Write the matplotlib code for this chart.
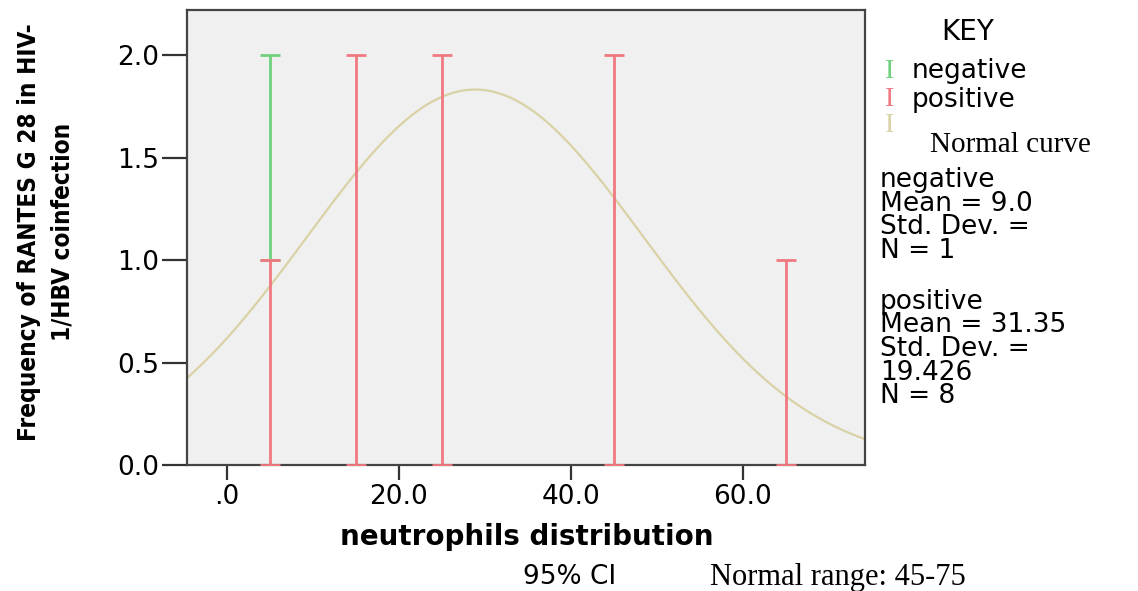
import numpy as np
import matplotlib.pyplot as plt

# error bars: (x position, lower, upper)
neg_x = [5]
neg_low = [1.0]
neg_high = [2.0]

pos_x = [5, 15, 25, 45, 65]
pos_low = [0.0, 0.0, 0.0, 0.0, 0.0]
pos_high = [1.0, 2.0, 2.0, 2.0, 1.0]

# normal curve parameters (all 9 cases, bin width 10)
curve_mean = 28.87
curve_sd = 19.6
curve_n = 9
bin_width = 10

x_ticks = [0, 20, 40, 60]
x_ticklabels = ['.0', '20.0', '40.0', '60.0']
y_ticks = [0.0, 0.5, 1.0, 1.5, 2.0]

neg_stats = ['negative', 'Mean = 9.0', 'Std. Dev. =', 'N = 1']
pos_stats = ['positive', 'Mean = 31.35', 'Std. Dev. =', '19.426', 'N = 8']

green = '#6fd07e'
red = '#f07880'
curve_col = '#d9d2a6'

W, H = 1138, 591
fig = plt.figure(figsize=(W / 100, H / 100), dpi=100)
ax = fig.add_axes([187 / W, 1 - 465 / H, (865 - 187) / W, (465 - 10) / H])
ax.set_facecolor('#f0f0f0')


def draw_bars(xs, lo, hi, col):
    xs = np.array(xs, dtype=float)
    lo = np.array(lo)
    hi = np.array(hi)
    mid = (lo + hi) / 2
    ax.errorbar(xs, mid, yerr=[mid - lo, hi - mid], fmt='none', ecolor=col,
                elinewidth=2, capsize=7.5, capthick=2, zorder=3)


draw_bars(neg_x, neg_low, neg_high, green)
draw_bars(pos_x, pos_low, pos_high, red)

xs = np.linspace(-5, 75, 400)
ys = curve_n * bin_width / (curve_sd * np.sqrt(2 * np.pi)) * np.exp(-0.5 * ((xs - curve_mean) / curve_sd) ** 2)
ax.plot(xs, ys, color=curve_col, lw=1.6, zorder=2)

ax.set_xlim(-4.65, 74.2)
ax.set_ylim(0, 2.22)
ax.set_xticks(x_ticks)
ax.set_xticklabels(x_ticklabels)
ax.set_yticks(y_ticks)
ax.set_yticklabels(['%.1f' % v for v in y_ticks])

for s in ax.spines.values():
    s.set_color('#444444')
    s.set_linewidth(1.6)
ax.tick_params(axis='y', length=18, width=1.6, color='#333333', labelsize=19, pad=2)
ax.tick_params(axis='x', length=11, width=1.6, color='#333333', labelsize=19, pad=3)


def ftxt(x, y, s, **kw):
    # place text by pixel position measured on the reference
    return fig.text(x / W, 1 - y / H, s, **kw)


ftxt(527, 537, 'neutrophils distribution', fontsize=20, fontweight='bold',
     ha='center', va='center')
ftxt(46, 232, 'Frequency of RANTES G 28 in HIV-\n1/HBV coinfection',
     rotation=90, ha='center', va='center', fontsize=17.5, fontweight='bold',
     family=['Liberation Sans Narrow', 'DejaVu Sans Condensed', 'DejaVu Sans'],
     fontstretch='condensed', linespacing=1.5)

ftxt(570, 577, '95% CI', fontsize=19, ha='center', va='center')
ftxt(710, 577, 'Normal range: 45-75', fontsize=22, ha='left', va='center',
     family='Liberation Serif')

# key on the right
ftxt(968, 32, 'KEY', fontsize=20, ha='center', va='center')
for yy, col in [(71, green), (100, red), (125, curve_col)]:
    ftxt(890, yy, 'I', fontsize=20, color=col, family='Liberation Serif',
         ha='center', va='center')
ftxt(912, 71, 'negative', fontsize=19, va='center')
ftxt(912, 100, 'positive', fontsize=19, va='center')
ftxt(930, 145, 'Normal curve', fontsize=21, va='center', family='Liberation Serif')

ftxt(880, 215.5, '\n'.join(neg_stats), fontsize=19, va='center', ha='left',
     linespacing=0.88)
ftxt(880, 349, '\n'.join(pos_stats), fontsize=19, va='center', ha='left',
     linespacing=0.88)

fig.savefig('out.png', dpi=100)
